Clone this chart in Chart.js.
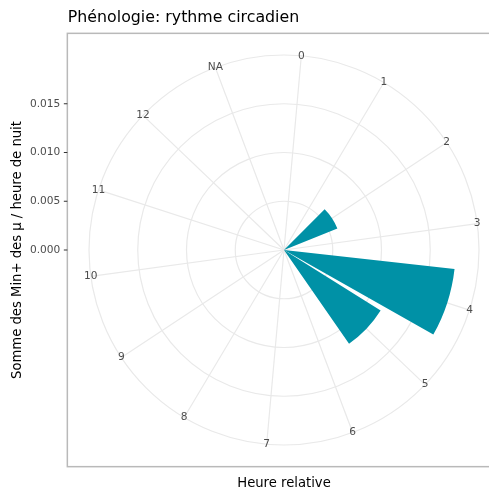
<!DOCTYPE html>
<html>
<head>
<meta charset="utf-8">
<script src="https://cdn.jsdelivr.net/npm/chart.js@4.4.1/dist/chart.umd.min.js"></script>
<style>
  html, body { margin: 0; padding: 0; background: #fff; overflow: hidden; }
  #wrap { position: relative; width: 489px; height: 488px; }
</style>
</head>
<body>
<div id="wrap"><canvas id="chart" width="489" height="488"></canvas></div>
<script>
// data
const heures = ['0', '1', '2', '3', '4', '5', '6', '7', '8', '9', '10', '11', '12', 'NA'];
const sommes = [0, 0, 0.0059, 0, 0.0176, 0.0117, 0, 0, 0, 0, 0, 0, 0, 0];
const yTicks = [0, 0.005, 0.010, 0.015];
const yTickLabels = ['0.000', '0.005', '0.010', '0.015'];
const rMax = 0.020;

const titre = 'Phénologie: rythme circadien';
const titreX = 'Heure relative';
const titreY = 'Somme des Min+ des µ / heure de nuit';

const font = '"DejaVu Sans", sans-serif';
const barColor = '#0091a6';
const gridColor = '#e9e9e9';

// each hour gets a slot; the bar takes 90% of it (geom_bar width 0.9),
// so the slot is split into half gap / bar / half gap
const step = 360 / heures.length;
const barFrac = 0.9;
const labels = [];
const values = [];
const angles = [];
const colors = [];
heures.forEach((h, i) => {
  labels.push('', h);
  values.push(0, sommes[i], 0);
  angles.push(step * (1 - barFrac) / 2, step * barFrac, step * (1 - barFrac) / 2);
  colors.push('rgba(0,0,0,0)', barColor, 'rgba(0,0,0,0)');
});

// panel border, left axis, titles and hour labels, ggplot style
const ggDecor = {
  id: 'ggDecor',
  afterDraw(chart) {
    const ctx = chart.ctx;
    const r = chart.scales.r;
    const cx = r.xCenter, cy = r.yCenter;
    const half = r.drawingArea * 0.5 / 0.45;
    const left = cx - half, top = cy - half;

    ctx.save();
    // panel border
    ctx.strokeStyle = '#b9b9b9';
    ctx.lineWidth = 1.5;
    ctx.strokeRect(left, top, half * 2, half * 2);

    // hour labels sit on the outer ring
    ctx.fillStyle = '#4d4d4d';
    ctx.font = '10.6px ' + font;
    ctx.textAlign = 'center';
    ctx.textBaseline = 'middle';
    labels.forEach((lab, i) => {
      if (lab === '') return;
      const p = r.getPointPosition(i, r.drawingArea);
      ctx.fillText(lab, p.x, p.y);
    });

    // left axis
    ctx.strokeStyle = '#333';
    ctx.lineWidth = 1;
    ctx.textAlign = 'right';
    yTicks.forEach((v, i) => {
      const y = cy - r.getDistanceFromCenterForValue(v);
      ctx.beginPath();
      ctx.moveTo(left - 3.5, y);
      ctx.lineTo(left, y);
      ctx.stroke();
      ctx.fillText(yTickLabels[i], left - 7, y);
    });

    // titles
    ctx.fillStyle = '#000';
    ctx.textAlign = 'left';
    ctx.textBaseline = 'alphabetic';
    ctx.font = '15.8px ' + font;
    ctx.fillText(titre, left + 0.5, 22);

    ctx.font = '13.2px ' + font;
    ctx.textAlign = 'center';
    ctx.fillText(titreX, cx, 487);

    ctx.translate(18, cy);
    ctx.rotate(-Math.PI / 2);
    ctx.textBaseline = 'middle';
    ctx.fillText(titreY, 0, 0);
    ctx.restore();
  }
};

new Chart(document.getElementById('chart'), {
  type: 'polarArea',
  data: {
    labels: labels,
    datasets: [{
      data: values,
      backgroundColor: colors,
      borderWidth: 0,
      angle: (c) => angles[c.dataIndex]
    }]
  },
  options: {
    responsive: false,
    animation: false,
    layout: { padding: { left: 89, right: 10, top: 55, bottom: 43 } },
    plugins: {
      legend: { display: false },
      tooltip: { enabled: false },
      title: { display: false }
    },
    scales: {
      r: {
        min: 0,
        max: rMax,
        startAngle: 5.1 - step / 2,
        ticks: { display: false, stepSize: 0.005 },
        grid: { circular: true, color: gridColor, lineWidth: 1.2 },
        angleLines: {
          display: true,
          color: (c) => (c.index % 2 ? gridColor : 'rgba(0,0,0,0)'),
          lineWidth: (c) => (c.index % 2 ? 1.2 : 0)
        },
        pointLabels: { display: false }
      }
    }
  },
  plugins: [ggDecor]
});
</script>
</body>
</html>
